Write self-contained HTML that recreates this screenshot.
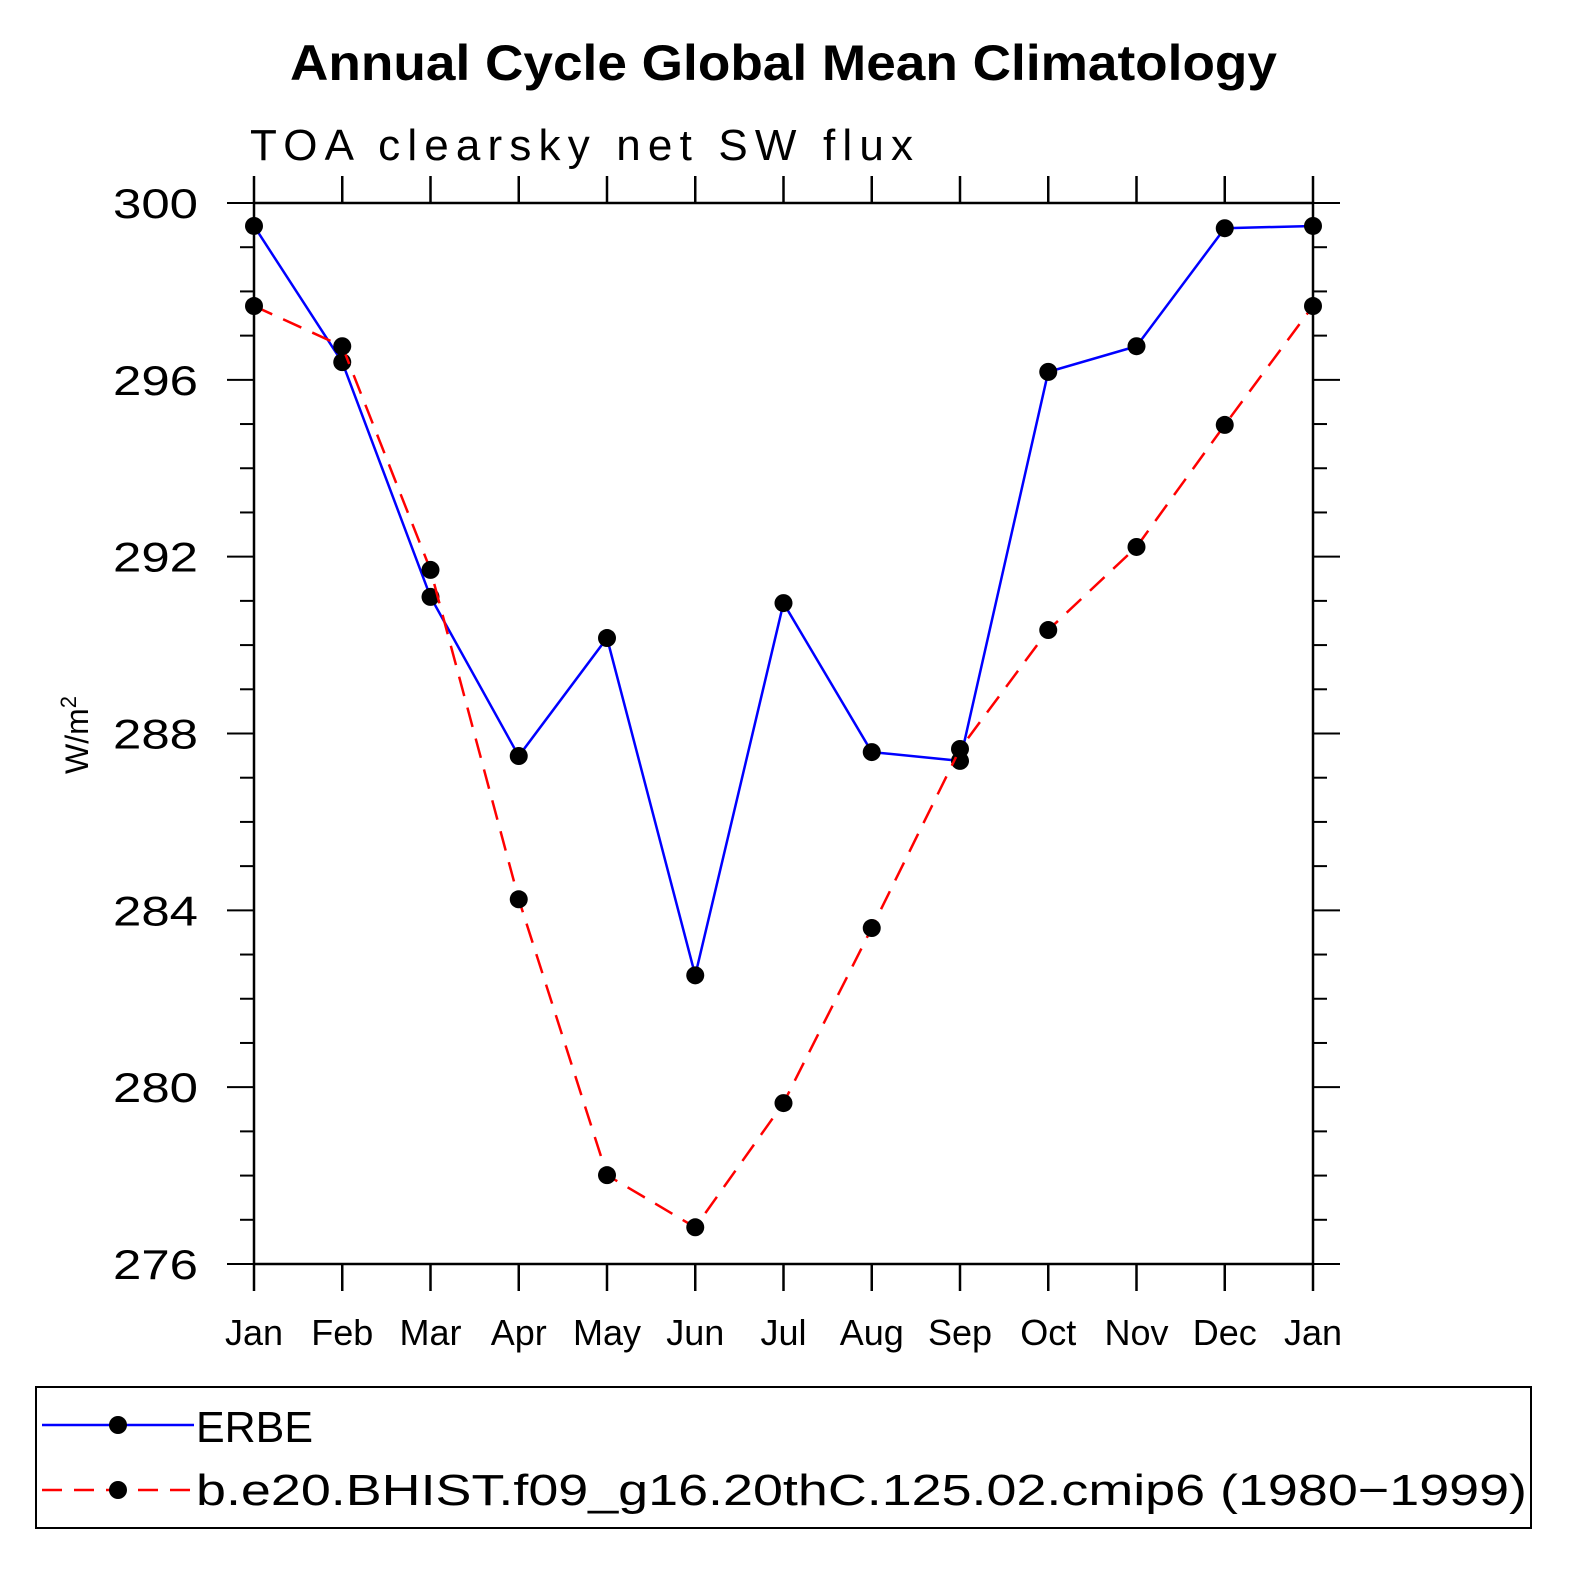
<!DOCTYPE html>
<html><head><meta charset="utf-8"><style>body{margin:0;background:#fff}svg{display:block}text{font-family:"Liberation Sans",sans-serif}</style></head>
<body>
<svg id="c" width="1574" height="1574">
<text x="290" y="80" textLength="987" lengthAdjust="spacingAndGlyphs" font-size="50" font-weight="bold">Annual Cycle Global Mean Climatology</text>
<text x="250" y="160" textLength="663" lengthAdjust="spacing" font-size="44">TOA clearsky net SW flux</text>
<text transform="translate(88,735) rotate(-90)" text-anchor="middle" font-size="32">W/m<tspan dy="-12" font-size="22">2</tspan></text>
<g id="axes"></g><g id="series"></g>
<rect x="36" y="1387" width="1495" height="141" fill="none" stroke="#000" stroke-width="2"/>
<g>
<line x1="42" y1="1425" x2="194" y2="1425" stroke="#0000ff" stroke-width="2.5"/><circle cx="118" cy="1425" r="9"/>
<text x="196" y="1442" textLength="117" lengthAdjust="spacingAndGlyphs" font-size="44">ERBE</text></g>
<g>
<line x1="42" y1="1490" x2="194" y2="1490" stroke="#ff0000" stroke-width="2.5" stroke-dasharray="20,12"/><circle cx="118" cy="1490" r="9"/>
<text x="196" y="1505" textLength="1331" lengthAdjust="spacingAndGlyphs" font-size="44">b.e20.BHIST.f09_g16.20thC.125.02.cmip6 (1980−1999)</text></g>
</svg>
<script>
const months=["Jan","Feb","Mar","Apr","May","Jun","Jul","Aug","Sep","Oct","Nov","Dec","Jan"];
const yTicks=[276,280,284,288,292,296,300];
const erbe=[299.48,296.4,291.09,287.49,290.16,282.53,290.95,287.58,287.38,296.18,296.76,299.43,299.48];
const model=[297.67,296.76,291.7,284.25,278.01,276.83,279.64,283.6,287.65,290.34,292.22,294.98,297.67];
const NS="http://www.w3.org/2000/svg";
const X0=254,X1=1313,Y0=203,Y1=1264,ymin=276,ymax=300;
const xs=i=>X0+(X1-X0)*i/(months.length-1);
const ys=v=>Y1-(v-ymin)/(ymax-ymin)*(Y1-Y0);
function mk(p,t,a){const e=document.createElementNS(NS,t);for(const k in a)e.setAttribute(k,a[k]);p.appendChild(e);return e;}
const ax=document.getElementById('axes');
const fr=mk(ax,'rect',{x:X0,y:Y0,width:X1-X0,height:Y1-Y0,fill:'none',stroke:'#000','stroke-width':2.5});


months.forEach((m,i)=>{const x=xs(i);
mk(ax,'line',{x1:x,y1:Y1,x2:x,y2:Y1+27,stroke:'#000','stroke-width':2.5});
mk(ax,'line',{x1:x,y1:Y0,x2:x,y2:Y0-27,stroke:'#000','stroke-width':2.5});
const t=mk(ax,'text',{x:x,y:1345,'text-anchor':'middle','font-size':36});t.textContent=m;

});
for(let v=ymin;v<=ymax;v++){const y=ys(v);const maj=(v-ymin)%4===0;const L=maj?27:14;
mk(ax,'line',{x1:X0-L,y1:y,x2:X0,y2:y,stroke:'#000','stroke-width':2});
mk(ax,'line',{x1:X1,y1:y,x2:X1+L,y2:y,stroke:'#000','stroke-width':2});}
yTicks.forEach(v=>{const t=mk(ax,'text',{x:113,y:ys(v)+15,'font-size':42,textLength:85,lengthAdjust:'spacingAndGlyphs'});t.textContent=v;

});
const sg=document.getElementById('series');
function series(d,col,dash,name){const g=mk(sg,'g',{});


mk(g,'polyline',{points:d.map((v,i)=>xs(i)+','+ys(v)).join(' '),fill:'none',stroke:col,'stroke-width':2.5,'stroke-dasharray':dash});
d.forEach((v,i)=>mk(g,'circle',{cx:xs(i),cy:ys(v),r:9,fill:'#000'}));}
series(erbe,'#0000ff','none','erbe-series');
series(model,'#ff0000','20,12','model-series');
</script>
</body></html>
